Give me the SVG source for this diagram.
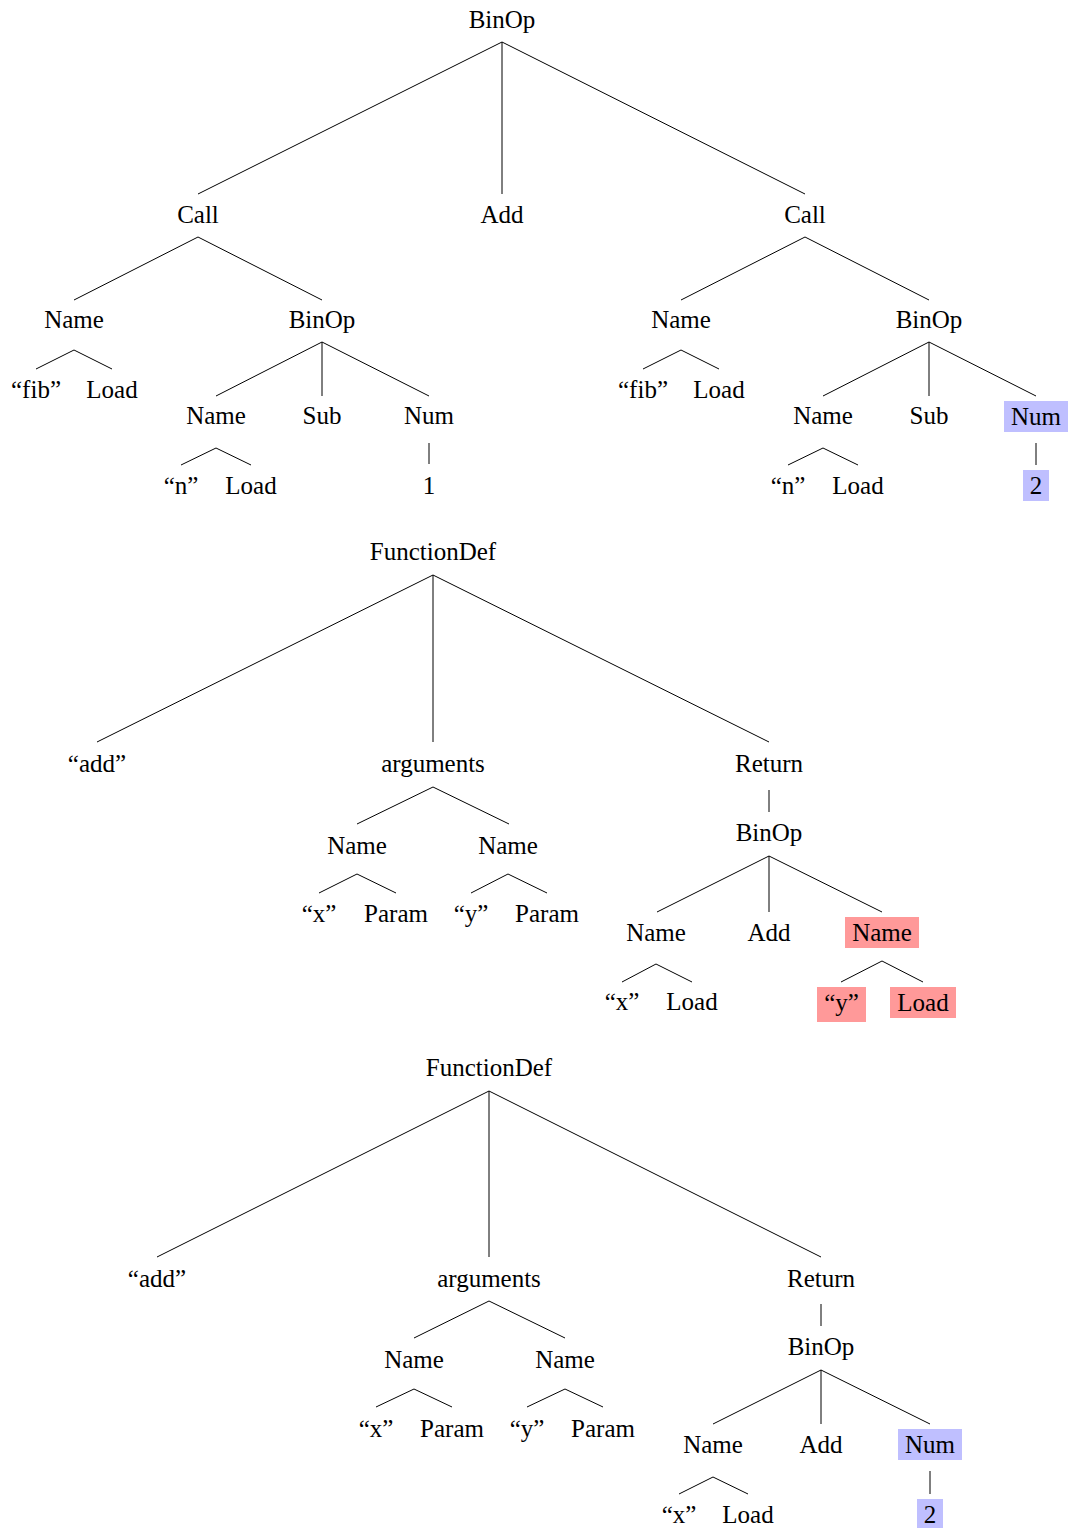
<svg xmlns="http://www.w3.org/2000/svg" width="1070" height="1528" viewBox="0 0 1070 1528">
  <style>
    text { font-family: "Liberation Serif", "Times New Roman", serif; font-size: 25px; text-anchor: middle; fill: #000; }
    .edge { stroke: #000; stroke-width: 1; fill: none; }
    .hl-blue { fill: #bfbfff; }
    .hl-red { fill: #ff9999; }
  </style>
  <rect width="1070" height="1528" fill="#fff"/>

  <!-- connectors -->
  <g id="edges" class="edge">
    <!-- tree 1: BinOp(Call, Add, Call) -->
    <path d="M502,42 L198,194 M502,42 L502,194 M502,42 L805,194"/>
    <path d="M198,237 L74,300 M198,237 L322,300"/>
    <path d="M74,350 L36,369 M74,350 L112,369"/>
    <path d="M322,342 L216,396 M322,342 L322,396 M322,342 L429,396"/>
    <path d="M216,448 L181,465 M216,448 L251,465"/>
    <path d="M429,443 L429,464"/>
    <path d="M805,237 L681,300 M805,237 L929,300"/>
    <path d="M681,350 L643,369 M681,350 L719,369"/>
    <path d="M929,342 L823,396 M929,342 L929,396 M929,342 L1036,396"/>
    <path d="M823,448 L788,465 M823,448 L858,465"/>
    <path d="M1036,443 L1036,465"/>
    <!-- tree 2: FunctionDef -->
    <path d="M433,575 L97,742 M433,575 L433,742 M433,575 L769,742"/>
    <path d="M433,787 L357,824 M433,787 L509,824"/>
    <path d="M357,874 L319,893 M357,874 L396,893"/>
    <path d="M508,874 L471,893 M508,874 L547,893"/>
    <path d="M769,790 L769,812"/>
    <path d="M769,856 L657,912 M769,856 L769,912 M769,856 L882,912"/>
    <path d="M656,964 L622,982 M656,964 L692,982"/>
    <path d="M882,961 L841,982 M882,961 L923,982"/>
    <!-- tree 3: FunctionDef -->
    <path d="M489,1091 L157,1257 M489,1091 L489,1257 M489,1091 L821,1257"/>
    <path d="M489,1301 L414,1338 M489,1301 L565,1338"/>
    <path d="M414,1389 L376,1407 M414,1389 L452,1407"/>
    <path d="M565,1389 L527,1407 M565,1389 L603,1407"/>
    <path d="M821,1304 L821,1326"/>
    <path d="M821,1370 L713,1424 M821,1370 L821,1424 M821,1370 L930,1424"/>
    <path d="M713,1477 L679,1494 M713,1477 L748,1494"/>
    <path d="M930,1471 L930,1494"/>
  </g>

  <!-- tree 1 nodes -->
  <g id="t1-binop"><text x="502" y="28">BinOp</text></g>
  <g id="t1-call-l"><text x="198" y="223">Call</text></g>
  <g id="t1-add"><text x="502" y="223">Add</text></g>
  <g id="t1-call-r"><text x="805" y="223">Call</text></g>
  <g id="t1-l-name"><text x="74" y="328">Name</text></g>
  <g id="t1-l-binop"><text x="322" y="328">BinOp</text></g>
  <g id="t1-l-fib"><text x="36" y="398">“fib”</text></g>
  <g id="t1-l-load"><text x="112" y="398">Load</text></g>
  <g id="t1-l-name2"><text x="216" y="424">Name</text></g>
  <g id="t1-l-sub"><text x="322" y="424">Sub</text></g>
  <g id="t1-l-num"><text x="429" y="424">Num</text></g>
  <g id="t1-l-n"><text x="181" y="494">“n”</text></g>
  <g id="t1-l-load2"><text x="251" y="494">Load</text></g>
  <g id="t1-l-one"><text x="429" y="494">1</text></g>
  <g id="t1-r-name"><text x="681" y="328">Name</text></g>
  <g id="t1-r-binop"><text x="929" y="328">BinOp</text></g>
  <g id="t1-r-fib"><text x="643" y="398">“fib”</text></g>
  <g id="t1-r-load"><text x="719" y="398">Load</text></g>
  <g id="t1-r-name2"><text x="823" y="424">Name</text></g>
  <g id="t1-r-sub"><text x="929" y="424">Sub</text></g>
  <g id="t1-r-num"><rect class="hl-blue" x="1004" y="401" width="64" height="31"/><text x="1036" y="425">Num</text></g>
  <g id="t1-r-n"><text x="788" y="494">“n”</text></g>
  <g id="t1-r-load2"><text x="858" y="494">Load</text></g>
  <g id="t1-r-two"><rect class="hl-blue" x="1023" y="470" width="26" height="31"/><text x="1036" y="494">2</text></g>

  <!-- tree 2 nodes -->
  <g id="t2-funcdef"><text x="433" y="560">FunctionDef</text></g>
  <g id="t2-add-str"><text x="97" y="772">“add”</text></g>
  <g id="t2-arguments"><text x="433" y="772">arguments</text></g>
  <g id="t2-return"><text x="769" y="772">Return</text></g>
  <g id="t2-arg-x"><text x="357" y="854">Name</text></g>
  <g id="t2-arg-y"><text x="508" y="854">Name</text></g>
  <g id="t2-arg-x-id"><text x="319" y="922">“x”</text></g>
  <g id="t2-arg-x-ctx"><text x="396" y="922">Param</text></g>
  <g id="t2-arg-y-id"><text x="471" y="922">“y”</text></g>
  <g id="t2-arg-y-ctx"><text x="547" y="922">Param</text></g>
  <g id="t2-binop"><text x="769" y="841">BinOp</text></g>
  <g id="t2-name-x"><text x="656" y="941">Name</text></g>
  <g id="t2-op-add"><text x="769" y="941">Add</text></g>
  <g id="t2-name-y"><rect class="hl-red" x="845" y="917" width="74" height="31"/><text x="882" y="941">Name</text></g>
  <g id="t2-x"><text x="622" y="1010">“x”</text></g>
  <g id="t2-x-load"><text x="692" y="1010">Load</text></g>
  <g id="t2-y"><rect class="hl-red" x="817" y="987" width="49" height="35"/><text x="841.5" y="1011">“y”</text></g>
  <g id="t2-y-load"><rect class="hl-red" x="890" y="987" width="66" height="31"/><text x="923" y="1011">Load</text></g>

  <!-- tree 3 nodes -->
  <g id="t3-funcdef"><text x="489" y="1076">FunctionDef</text></g>
  <g id="t3-add-str"><text x="157" y="1287">“add”</text></g>
  <g id="t3-arguments"><text x="489" y="1287">arguments</text></g>
  <g id="t3-return"><text x="821" y="1287">Return</text></g>
  <g id="t3-arg-x"><text x="414" y="1368">Name</text></g>
  <g id="t3-arg-y"><text x="565" y="1368">Name</text></g>
  <g id="t3-arg-x-id"><text x="376" y="1437">“x”</text></g>
  <g id="t3-arg-x-ctx"><text x="452" y="1437">Param</text></g>
  <g id="t3-arg-y-id"><text x="527" y="1437">“y”</text></g>
  <g id="t3-arg-y-ctx"><text x="603" y="1437">Param</text></g>
  <g id="t3-binop"><text x="821" y="1355">BinOp</text></g>
  <g id="t3-name-x"><text x="713" y="1453">Name</text></g>
  <g id="t3-op-add"><text x="821" y="1453">Add</text></g>
  <g id="t3-num"><rect class="hl-blue" x="898" y="1429" width="64" height="31"/><text x="930" y="1453">Num</text></g>
  <g id="t3-x"><text x="679" y="1523">“x”</text></g>
  <g id="t3-x-load"><text x="748" y="1523">Load</text></g>
  <g id="t3-two"><rect class="hl-blue" x="917" y="1499" width="26" height="31"/><text x="930" y="1523">2</text></g>
</svg>
